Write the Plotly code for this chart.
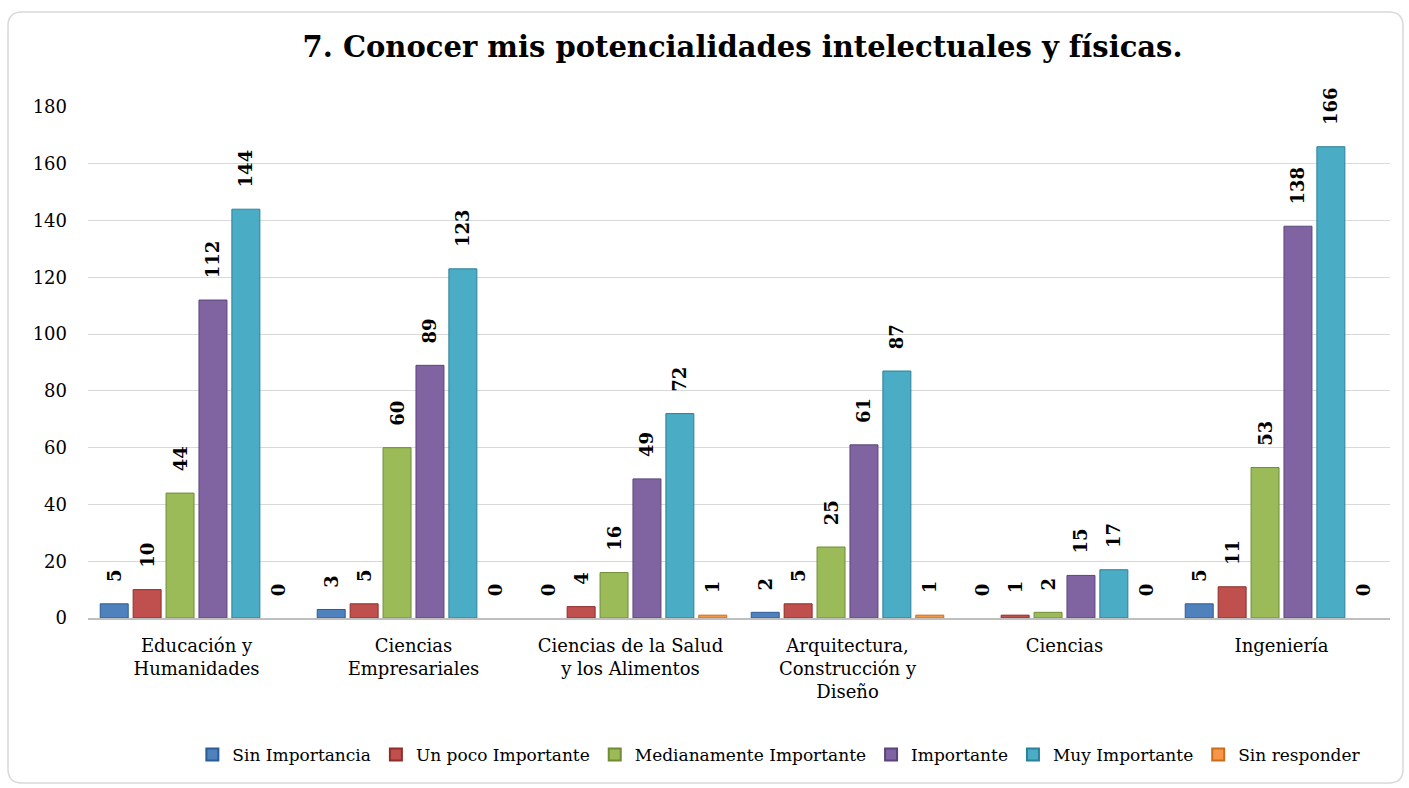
import plotly.graph_objects as go

categories = ["Educación y<br>Humanidades", "Ciencias<br>Empresariales",
              "Ciencias de la Salud<br>y los Alimentos",
              "Arquitectura,<br>Construcción y<br>Diseño", "Ciencias", "Ingeniería"]
series_names = ["Sin Importancia", "Un poco Importante", "Medianamente Importante",
                "Importante", "Muy Importante", "Sin responder"]
sin_importancia = [5, 3, 0, 2, 0, 5]
un_poco = [10, 5, 4, 5, 1, 11]
medianamente = [44, 60, 16, 25, 2, 53]
importante = [112, 89, 49, 61, 15, 138]
muy_importante = [144, 123, 72, 87, 17, 166]
sin_responder = [0, 0, 1, 1, 0, 0]
y_ticks = [0, 20, 40, 60, 80, 100, 120, 140, 160, 180]

values = [sin_importancia, un_poco, medianamente, importante, muy_importante, sin_responder]
colors = ["#4F81BD", "#C0504D", "#9BBB59", "#8064A2", "#4BACC6", "#F79646"]
lines = ["#2C5C94", "#8E2D2A", "#6F8C35", "#5A4479", "#2B8199", "#C86E22"]

SERIF = "DejaVu Serif"

fig = go.Figure()
for name, vals, c, lc in zip(series_names, values, colors, lines):
    fig.add_trace(go.Bar(
        name=name, x=categories, y=vals,
        marker=dict(color=c, line=dict(color=lc, width=[1 if v else 0 for v in vals])),
        text=["\u00a0\u00a0\u00a0" + str(v) for v in vals],
        textposition="outside", textangle=-90, constraintext="none",
        textfont=dict(family=SERIF, size=18, color="#000000", weight="bold"),
        cliponaxis=False,
    ))

# rounded outer border (paper coords computed from pixel layout)
L, R, T, B = 88, 1390, 107, 618
W, H = R - L, B - T
def px(x):
    return (x - L) / W
def py(y):
    return (B - y) / H
x0, x1, y0, y1, r = 8, 1403, 12, 783, 14
path = (f"M {px(x0+r)},{py(y0)} L {px(x1-r)},{py(y0)} Q {px(x1)},{py(y0)} {px(x1)},{py(y0+r)} "
        f"L {px(x1)},{py(y1-r)} Q {px(x1)},{py(y1)} {px(x1-r)},{py(y1)} "
        f"L {px(x0+r)},{py(y1)} Q {px(x0)},{py(y1)} {px(x0)},{py(y1-r)} "
        f"L {px(x0)},{py(y0+r)} Q {px(x0)},{py(y0)} {px(x0+r)},{py(y0)} Z")

fig.update_layout(
    width=1409, height=788,
    margin=dict(l=L, r=1409 - R, t=T, b=788 - B),
    paper_bgcolor="white", plot_bgcolor="white",
    barmode="group", bargap=0.09, bargroupgap=0.15,
    title=dict(text="<b>7. Conocer mis potencialidades intelectuales y físicas.</b>",
               x=0.527, xanchor="center", y=0.94, yanchor="middle",
               font=dict(family=SERIF, size=29, color="#000000")),
    font=dict(family=SERIF, color="#000000"),
    legend=dict(orientation="h", x=0.531, xanchor="center", y=-0.268, yanchor="middle",
                font=dict(family=SERIF, size=17, color="#000000"),
                itemwidth=30, traceorder="normal", itemsizing="constant"),
    shapes=[dict(type="path", path=path, xref="paper", yref="paper",
                 line=dict(color="#D9D9D9", width=1.5), layer="below")],
)
fig.update_yaxes(range=[0, 180], tickvals=y_ticks, showgrid=True, gridcolor="#D9D9D9",
                 gridwidth=1, zeroline=False, showline=False,
                 tickfont=dict(family=SERIF, size=18, color="#000000"),
                 ticks="", ticklabelstandoff=20)
fig.update_xaxes(showline=True, linecolor="#BFBFBF", linewidth=2, showgrid=False,
                 tickfont=dict(family=SERIF, size=18, color="#000000"), ticks="",
                 ticklabelstandoff=10)

fig.write_html("out.html", config={"displayModeBar": False},
               post_script="document.body.style.margin='0';document.body.style.overflow='hidden';")
